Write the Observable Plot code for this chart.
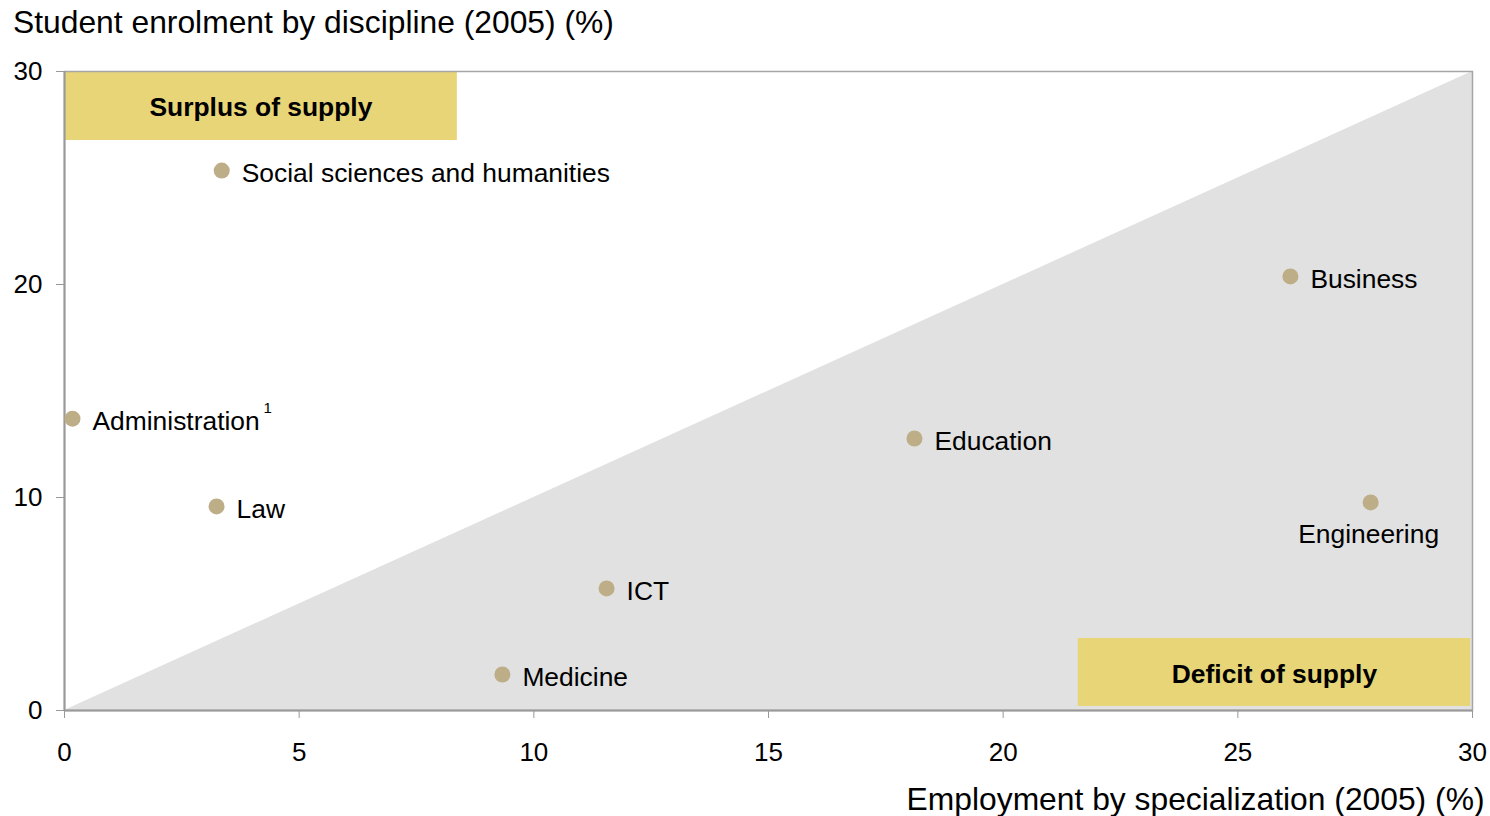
<!DOCTYPE html>
<html>
<head>
<meta charset="utf-8">
<script src="https://cdn.jsdelivr.net/npm/d3@7"></script>
<script src="https://cdn.jsdelivr.net/npm/@observablehq/plot@0.6"></script>
<style>
  body { margin: 0; background: white; font-family: "Liberation Sans", Arial, sans-serif; }
  #title { height: 42px; line-height: 44px; font-size: 31.8px; padding-left: 13px; color: #000; white-space: nowrap; }
  #chart svg { display: block; }
</style>
</head>
<body>
<div id="title">Student enrolment by discipline (2005) (%)</div>
<div id="chart"></div>
<script>
// ---- data ----
const categories = ["Social sciences and humanities", "Business", "Administration", "Education", "Law", "Engineering", "ICT", "Medicine"];
const employment = [3.35, 26.12, 0.17, 18.11, 3.24, 27.83, 11.55, 9.33];
const enrolment  = [25.35, 20.38, 13.7, 12.77, 9.58, 9.77, 5.73, 1.69];
const footnotes  = ["", "", "1", "", "", "", "", ""];

const zoneNames = ["Surplus of supply", "Deficit of supply"];
const zoneX1 = [0, 21.6];
const zoneX2 = [8.37, 29.96];
const zoneY1 = [26.76, 0.19];
const zoneY2 = [30, 3.38];

const diagonal = [0, 30];
const xTicks = [0, 5, 10, 15, 20, 25, 30];
const yTicks = [0, 10, 20, 30];
const xLabel = "Employment by specialization (2005) (%)";

// ---- build tables ----
const points = categories.map((c, i) => ({name: c, x: employment[i], y: enrolment[i], note: footnotes[i]}));
const zones = zoneNames.map((n, i) => ({name: n, x1: zoneX1[i], x2: zoneX2[i], y1: zoneY1[i], y2: zoneY2[i]}));
const below = points.filter(d => d.name === "Engineering");
const right = points.filter(d => d.name !== "Engineering");

const font = "'Liberation Sans', Arial, sans-serif";
const gridGray = "#999999";

const chart = Plot.plot({
  width: 1490,
  height: 774,
  marginTop: 29,
  marginLeft: 64,
  marginRight: 18,
  marginBottom: 106,
  x: {domain: [0, 30]},
  y: {domain: [0, 30]},
  style: {fontFamily: font, fontSize: "26px", color: "#000", background: "white", overflow: "visible"},
  marks: [
    Plot.areaY(diagonal, {x: d => d, y: d => d, fill: "#e1e1e1"}),
    Plot.rect(zones, {x1: "x1", x2: "x2", y1: "y1", y2: "y2", fill: "#e7d577"}),
    Plot.text(zones, {x: d => (d.x1 + d.x2) / 2, y: d => (d.y1 + d.y2) / 2, text: "name", fontWeight: "bold", fontSize: 26.4, dy: 2, fill: "#000"}),
    Plot.frame({stroke: "#a6a6a6", strokeWidth: 1.5}),
    Plot.ruleX([0], {stroke: gridGray, strokeWidth: 2}),
    Plot.ruleY([0], {stroke: gridGray, strokeWidth: 2}),
    Plot.dot(points, {x: "x", y: "y", r: 8, fill: "#bdae88", stroke: null}),
    Plot.text(right, {x: "x", y: "y", text: "name", textAnchor: "start", dx: 20, dy: 3, fontSize: 26.4, fill: "#000"}),
    Plot.text(below, {x: "x", y: "y", text: "name", textAnchor: "middle", dx: -2, dy: 32, fontSize: 26.4, fill: "#000"}),
    Plot.text(points.filter(d => d.note), {x: "x", y: "y", text: "note", textAnchor: "start", dx: 191, dy: -11, fontSize: 15, fill: "#000"}),
    Plot.axisX({ticks: xTicks, tickSize: 8, tickPadding: 24, stroke: gridGray, fill: "#000", fontSize: 26, label: null}),
    Plot.axisY({ticks: yTicks, tickSize: 8, tickPadding: 14, stroke: gridGray, fill: "#000", fontSize: 26, label: null}),
    Plot.text([xLabel], {frameAnchor: "bottom-right", text: d => d, textAnchor: "end", dx: 12, dy: 99, fontSize: 31.8, fill: "#000"})
  ]
});
document.getElementById("chart").appendChild(chart);
</script>
</body>
</html>
